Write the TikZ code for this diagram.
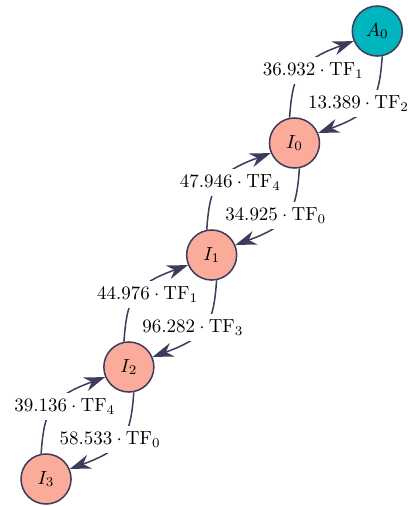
\documentclass[tikz,border=0pt]{standalone}
\usetikzlibrary{arrows.meta}
\definecolor{edgecol}{RGB}{62,60,92}
\definecolor{initcol}{RGB}{0,181,189}
\definecolor{intcol}{RGB}{251,171,154}
\tikzset{
  state/.style={circle,draw=edgecol,line width=.8pt,minimum size=26.4pt,inner sep=0pt},
  trans/.style={draw=edgecol,line width=.8pt,-{Stealth[length=11pt,width=7.5pt,inset=3.5pt]},out looseness=1.12,in looseness=1.49},
  rate/.style={fill=white,inner sep=3pt}
}
\begin{document}
\begin{tikzpicture}[x=43.7pt,y=59.1pt]
\useasboundingbox (-0.556,-0.241) rectangle (4.362,4.277);
\node[state,fill=initcol] (A0) at (4,4) {$A_0$};
\foreach \i/\n in {3/0,2/1,1/2,0/3}{\node[state,fill=intcol] (I\n) at (\i,\i) {$I_\n$};}
% rate up / rate down for each neighbouring pair
\foreach \lo/\hi/\up/\down in {I0/A0/{36.932\cdot\mathrm{TF}_1}/{13.389\cdot\mathrm{TF}_2},
  I1/I0/{47.946\cdot\mathrm{TF}_4}/{34.925\cdot\mathrm{TF}_0},
  I2/I1/{44.976\cdot\mathrm{TF}_1}/{96.282\cdot\mathrm{TF}_3},
  I3/I2/{39.136\cdot\mathrm{TF}_4}/{58.533\cdot\mathrm{TF}_0}}{
  \draw[trans] (\lo.101) to[out=86,in=200] node[rate,xshift=5.8pt] {$\up$} (\hi.203);
  \draw[trans] (\hi.281) to[out=266,in=20] node[rate,xshift=-5.8pt] {$\down$} (\lo.23);
}
\end{tikzpicture}
\end{document}
